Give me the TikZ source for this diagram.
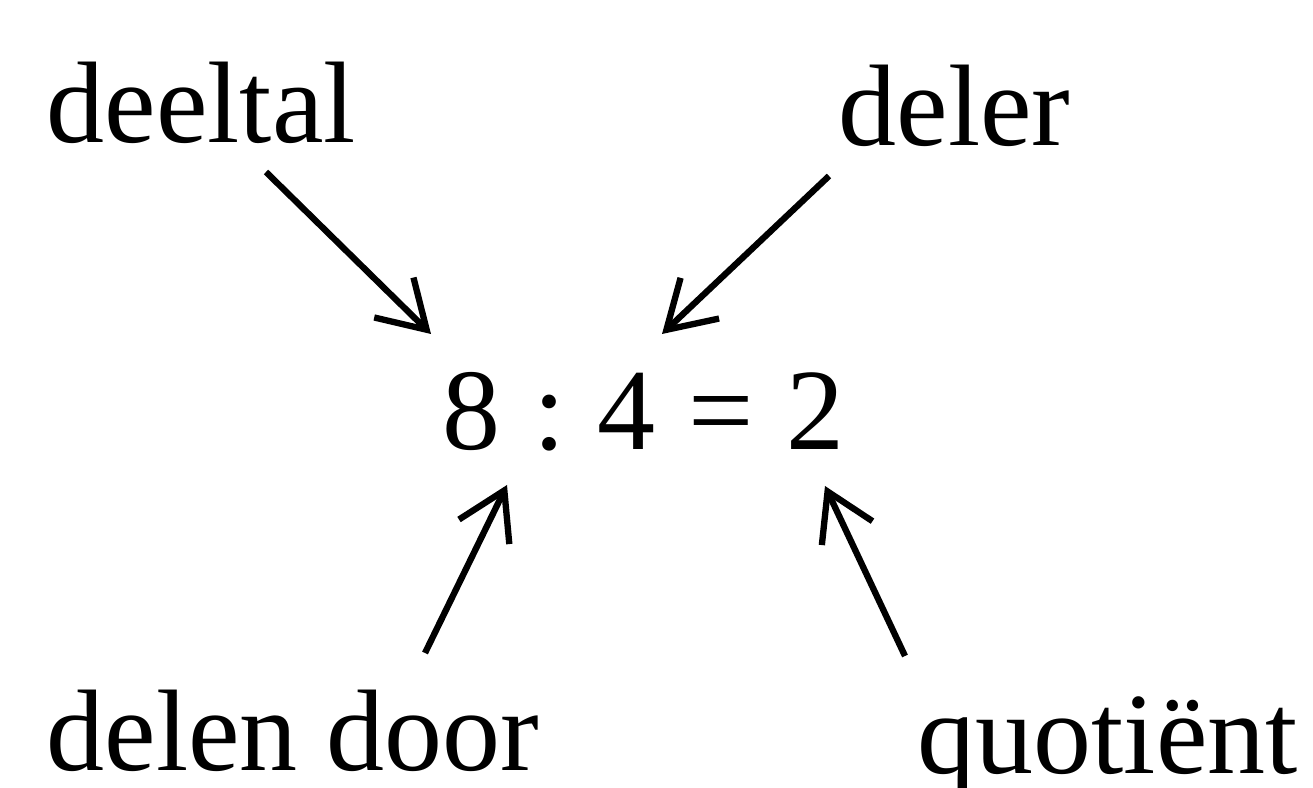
\documentclass[tikz,border=0pt]{standalone}
\usepackage{fontspec}
\setmainfont{Liberation Serif}
\usetikzlibrary{arrows.meta}
\newcommand\gap{\hspace{0.28em}}
\begin{document}
\begin{tikzpicture}[
        word/.style={inner sep=0pt, anchor=base west, font=\fontsize{33}{40}\selectfont},
        pijl/.style={-{Straight Barb[length=4.6mm, width=5.6mm]}, line width=1.8pt}]
        \useasboundingbox (0,0) rectangle (13.13,7.88);
        \node[word] (deeltal) at (0.46,6.45) {deeltal};
        \node[word] (deler) at (8.38,6.42) {deler};
        \node[word] (som) at (4.42,3.38) {8\gap:\gap4\gap=\gap2};
        \node[word] (delen) at (0.46,0.17) {delen door};
        \node[word] (quot) at (9.17,0.14) {quotiënt};
        % begin en eind van de pijlen
        \coordinate (a1) at (2.66,6.16);
        \coordinate (b1) at (4.31,4.54);
        \coordinate (a2) at (8.29,6.12);
        \coordinate (b2) at (6.62,4.54);
        \coordinate (a3) at (4.25,1.35);
        \coordinate (b3) at (5.07,3.03);
        \coordinate (a4) at (9.05,1.32);
        \coordinate (b4) at (8.25,3.02);
        \draw[pijl] (a1) -- (b1);
        \draw[pijl] (a2) -- (b2);
        \draw[pijl] (a3) -- (b3);
        \draw[pijl] (a4) -- (b4);
    \end{tikzpicture}
\end{document}
